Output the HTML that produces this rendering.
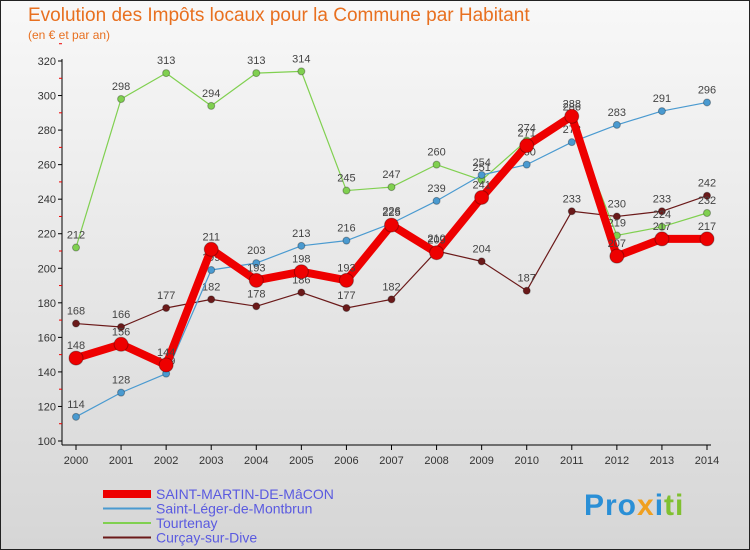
<!DOCTYPE html>
<html><head><meta charset="utf-8"><style>
body{margin:0;width:750px;height:550px;overflow:hidden;font-family:"Liberation Sans",sans-serif}
#wrap{position:relative;width:748px;height:548px;border:1px solid #222;background:linear-gradient(#f8f8f8,#d6d6d6)}
.t{position:absolute;left:27px;top:4px;font-size:19px;color:#e87020}
.s{position:absolute;left:27px;top:27px;font-size:12px;color:#e87020}
</style></head><body>
<div id="wrap">
<div class="t">Evolution des Impôts locaux pour la Commune par Habitant</div>
<div class="s">(en € et par an)</div>
<svg id="c" width="748" height="548" style="position:absolute;left:0;top:0"></svg>
<div style="position:absolute;left:583px;top:488px;font-size:30px;font-weight:bold;letter-spacing:1px"><span style="color:#2a8fd6">Pro</span><span style="color:#f0a020">x</span><span style="color:#2a8fd6">i</span><span style="color:#80c030">ti</span></div>
</div>
<script>
const years=[2000,2001,2002,2003,2004,2005,2006,2007,2008,2009,2010,2011,2012,2013,2014];
const yTicks=[100,120,140,160,180,200,220,240,260,280,300,320];
const saintMartin=[148,156,144,211,193,198,193,225,209,241,271,288,207,217,217];
const saintLeger=[114,128,139,199,203,213,216,226,239,254,260,273,283,291,296];
const tourtenay=[212,298,313,294,313,314,245,247,260,251,274,286,219,224,232];
const curcay=[168,166,177,182,178,186,177,182,210,204,187,233,230,233,242];
const names=["SAINT-MARTIN-DE-MâCON","Saint-Léger-de-Montbrun","Tourtenay","Curçay-sur-Dive"];
const NS="http://www.w3.org/2000/svg",svg=document.getElementById('c');
const X=i=>75+i*(631/14), Y=v=>440-(v-100)*380/220;
function el(t,a,p){const e=document.createElementNS(NS,t);for(const k in a)e.setAttribute(k,a[k]);(p||svg).appendChild(e);return e;}
let ax=el('line',{x1:61,y1:58,x2:61,y2:444,stroke:'#000'});

let bx=el('line',{x1:61,y1:444,x2:710,y2:444,stroke:'#000'});

yTicks.forEach(v=>{el('line',{x1:57,x2:61,y1:Y(v),y2:Y(v),stroke:'#000'});
el('line',{x1:58,x2:61,y1:Y(v+10),y2:Y(v+10),stroke:'#e00'});
const t=el('text',{x:55,y:Y(v)+4,'text-anchor':'end','font-size':11,fill:'#333'});t.textContent=v;
});
years.forEach((y,i)=>{el('line',{x1:X(i),x2:X(i),y1:444,y2:449,stroke:'#000'});
const t=el('text',{x:X(i),y:463,'text-anchor':'middle','font-size':11,fill:'#333'});t.textContent=y;
});
const series=[[curcay,'#6b1a1a',1.2,3.5,'curcay'],[tourtenay,'#80d050',1.2,3.5,'tourtenay'],[saintLeger,'#4a9ad0',1.2,3.5,'saint-leger'],[saintMartin,'#ee0000',8,7,'saint-martin']];
series.forEach(([d,c,w,r,n])=>{
const p=el('polyline',{points:d.map((v,i)=>X(i)+','+Y(v)).join(' '),fill:'none',stroke:c,'stroke-width':w,'stroke-linejoin':'round'});

d.forEach((v,i)=>{const pt=el('circle',{cx:X(i),cy:Y(v),r:r,fill:c,stroke:'rgba(0,0,0,0.3)'});

const t=el('text',{x:X(i),y:Y(v)-9,'text-anchor':'middle','font-size':11,fill:'#444'});t.textContent=v;
});});
const lc=['#ee0000','#4a9ad0','#80d050','#6b1a1a'],lw=[8,2,2,2];
names.forEach((nm,i)=>{const y=493+i*14.5;
const l=el('line',{x1:102,x2:150,y1:y,y2:y,stroke:lc[i],'stroke-width':lw[i]});

const t=el('text',{x:155,y:y+5,'font-size':14,fill:'#5a5ae0'});t.textContent=nm;
});
</script>
</body></html>
